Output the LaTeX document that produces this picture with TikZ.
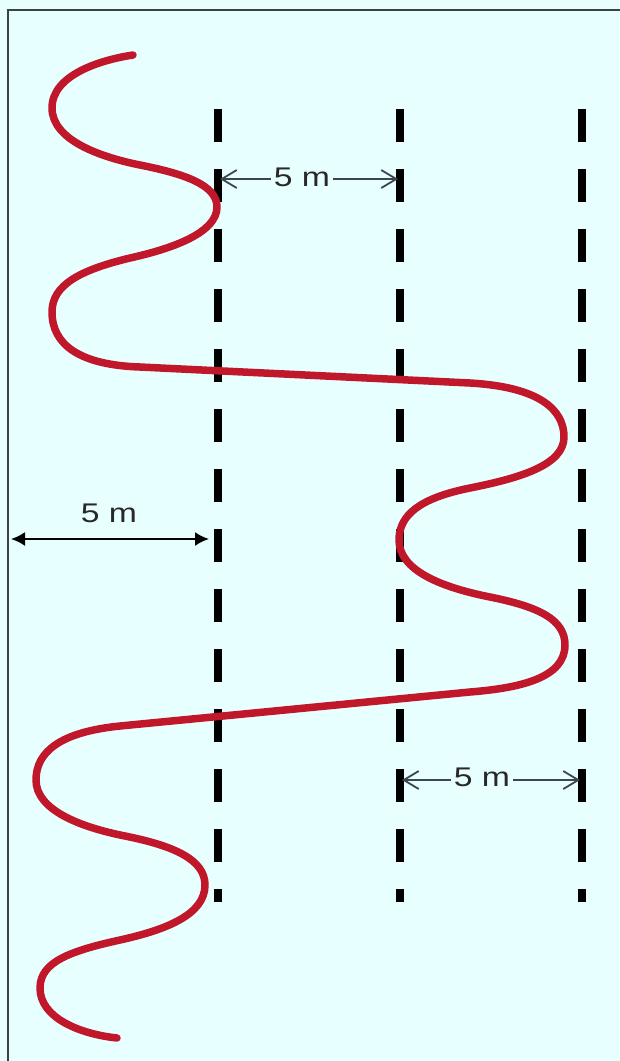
\documentclass[tikz,border=0pt]{standalone}
\usepackage{fontspec}
\setmainfont{Liberation Sans}
\usetikzlibrary{arrows.meta}
\definecolor{bg}{RGB}{232,255,255}
\definecolor{framecol}{RGB}{58,66,66}
\definecolor{ropered}{RGB}{192,24,42}
\definecolor{dimcol}{RGB}{60,70,78}
\definecolor{labcol}{RGB}{40,40,40}
\tikzset{
  guide/.style={line width=7.5pt, black, dash pattern=on 33pt off 27pt},
  ropeline/.style={line width=7.5pt, ropered, line cap=round, line join=round},
  dimthin/.style={line width=1.8pt, dimcol, -{Straight Barb[length=15pt,width=18pt,line width=1.8pt]}},
  dimbold/.style={line width=2pt, black, {Latex[length=14pt,width=14pt]}-{Latex[length=14pt,width=14pt]}},
  lbl/.style={font=\fontsize{27}{30}\selectfont, text=labcol, inner sep=3pt},
  framestyle/.style={line width=2.2pt, framecol}
}
\begin{document}
\begin{tikzpicture}[x=1pt,y=-1pt]
\fill[bg] (0,0) rectangle (620,1061);
\useasboundingbox (0,0) rectangle (620,1061);
% frame
\coordinate (fTL) at (8,10);
\coordinate (fTR) at (620,10);
\coordinate (fBL) at (8,1061);
\draw[framestyle] (fTR) -- (fTL) -- (fBL);
% guide lines
\coordinate (g1t) at (218,109); \coordinate (g1b) at (218,902);
\coordinate (g2t) at (400,109); \coordinate (g2b) at (400,902);
\coordinate (g3t) at (582,109); \coordinate (g3b) at (582,902);
\draw[guide] (g1t) -- (g1b);
\draw[guide] (g2t) -- (g2b);
\draw[guide] (g3t) -- (g3b);
% rope
\draw[ropeline] (133,55)
  .. controls (100,60) and (52,75) .. (52,108)
  .. controls (52,140) and (100,157) .. (140,165)
  .. controls (185,174) and (217,185) .. (217,207)
  .. controls (217,232) and (175,248) .. (130,258)
  .. controls (80,270) and (52,285) .. (52,312)
  .. controls (52,345) and (80,365) .. (140,367)
  -- (470,383)
  .. controls (540,387) and (564,410) .. (564,437)
  .. controls (564,465) and (520,478) .. (470,488)
  .. controls (420,498) and (399,515) .. (399,540)
  .. controls (399,570) and (440,587) .. (490,597)
  .. controls (540,607) and (565,620) .. (565,645)
  .. controls (565,678) and (520,688) .. (470,692)
  -- (120,726)
  .. controls (60,732) and (36,752) .. (36,780)
  .. controls (36,810) and (80,827) .. (125,836)
  .. controls (175,846) and (205,860) .. (205,885)
  .. controls (205,915) and (165,930) .. (120,940)
  .. controls (70,951) and (40,962) .. (40,988)
  .. controls (40,1018) and (80,1034) .. (117,1038);
% top dimension
\node[lbl] (t1) at (302,177) {\scalebox{1.25}[1]{5 m}};
\coordinate (t1l) at (220,179);
\coordinate (t1r) at (398,179);
\draw[dimthin] (t1.west |- t1l) -- (t1l);
\draw[dimthin] (t1.east |- t1r) -- (t1r);
% bottom dimension
\node[lbl] (t2) at (482,777) {\scalebox{1.25}[1]{5 m}};
\coordinate (t2l) at (402,780);
\coordinate (t2r) at (580,780);
\draw[dimthin] (t2.west |- t2l) -- (t2l);
\draw[dimthin] (t2.east |- t2r) -- (t2r);
% left dimension
\coordinate (dl) at (11,539);
\coordinate (dr) at (209,539);
\draw[dimbold] (dl) -- (dr);
\node[lbl] (t3) at (109,513) {\scalebox{1.25}[1]{5 m}};
\end{tikzpicture}
\end{document}
